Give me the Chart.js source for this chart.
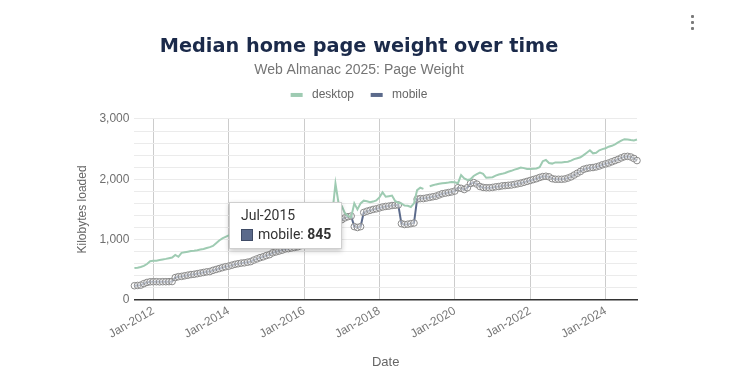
<!DOCTYPE html>
<html>
<head>
<meta charset="utf-8">
<script src="https://cdn.jsdelivr.net/npm/chart.js@4.4.1/dist/chart.umd.min.js"></script>
<style>
  html, body { margin: 0; padding: 0; background: #fff; }
  #wrap { position: relative; width: 734px; height: 382px; overflow: hidden; }
  #tip {
    position: absolute; display: none; background: #fff;
    border: 1px solid #cfcfcf; box-shadow: 0 2px 5px rgba(0,0,0,0.22);
    padding: 4px 10px 5px 11px; font-family: Roboto, 'Liberation Sans', sans-serif;
    color: #333; white-space: nowrap; pointer-events: none; box-sizing: border-box;
  }
  #tip .t { font-size: 14px; line-height: 17px; margin-bottom: 2px; }
  #tip .b { font-size: 14px; line-height: 17px; display: flex; align-items: center; }
  #tip .sw { display: inline-block; width: 12px; height: 12px; margin-right: 5px; box-sizing: border-box; border: 1px solid #3f4b66; }
  .dot { position: absolute; left: 691px; width: 3px; height: 3px; background: #7a7a7a; border-radius: 1px; }
</style>
</head>
<body>
<div id="wrap">
  <canvas id="c" width="734" height="382"></canvas>
  <div id="tip"></div>
  <div class="dot" style="top:15px"></div>
  <div class="dot" style="top:21px"></div>
  <div class="dot" style="top:27px"></div>
</div>
<script>
// ---------- data ----------
const MONTHS = ['Jan','Feb','Mar','Apr','May','Jun','Jul','Aug','Sep','Oct','Nov','Dec'];
const START_YEAR = 2011;
const START_MONTH = 6; // Jul

const desktopKB = [
  530, 535, 545, 565, 595, 640, 648, 650, 660, 670,
  680, 692, 703, 746, 715, 780, 790, 800, 810, 815,
  824, 835, 845, 860, 875, 895, 940, 985, 1020, 1045,
  1070, 1085, 1100, 1115, 1130, 1140, 1160, 1170, 1185, 1200,
  1210, 1225, 1240, 1255, 1265, 1280, 1290, 1300, 1310, 1320,
  1330, 1340, 1350, 1360, 1370, 1380, 1385, 1390, 1395, 1400,
  1405, 1410, 1420, 1430, 1930, 1600, 1560, 1440, 1390, 1370,
  1600, 1500, 1600, 1645, 1635, 1620, 1630, 1650, 1700, 1785,
  1710, 1720, 1730, 1640, 1610, 1600, 1565, 1560, 1540, 1600,
  1820, 1860, 1840, null, 1885, 1900, 1915, 1925, 1935, 1940,
  1945, 1955, 1950, 1935, 2070, 2015, 1990, 2000, 2055, 2085,
  2110, 2090, 2025, 2030, 2035, 2060, 2080, 2090, 2105, 2125,
  2140, 2160, 2175, 2195, 2185, 2170, 2170, 2175, 2180, 2200,
  2300, 2320, 2270, 2260, 2280, 2280, 2280, 2285, 2290, 2310,
  2335, 2350, 2365, 2400, 2440, 2480, 2430, 2440, 2480, 2500,
  2515, 2540, 2555, 2580, 2610, 2640, 2665, 2660, 2650, 2645,
  2660
];

const mobileKB = [
  235, 240, 245, 270, 290, 300, 302, 302, 300, 302,
  302, 303, 305, 370, 385, 390, 400, 410, 420, 425,
  435, 445, 455, 465, 470, 490, 505, 520, 535, 550,
  560, 575, 590, 600, 610, 615, 625, 635, 660, 680,
  700, 715, 735, 750, 780, 795, 810, 825, 845, 850,
  860, 870, 880, 900, 925, 950, 980, 1010, 1040, 1070,
  1100, 1140, 1180, 1220, 1260, 1300, 1330, 1360, 1380, 1390,
  1215, 1200, 1215, 1450, 1470, 1485, 1500, 1510, 1525, 1540,
  1550, 1555, 1565, 1570, 1575, 1265, 1250, 1255, 1265, 1275,
  1670, 1680, 1680, 1690, 1700, 1710, 1720, 1740, 1760, 1770,
  1780, 1790, 1805, 1860, 1850, 1830, 1860, 1930, 1945, 1920,
  1880, 1865, 1860, 1860, 1865, 1875, 1880, 1890, 1895, 1900,
  1905, 1915, 1925, 1935, 1950, 1965, 1980, 1995, 2010, 2030,
  2045, 2050, 2040, 2010, 2000, 2000, 2000, 2005, 2020, 2040,
  2070, 2100, 2130, 2165, 2180, 2190, 2195, 2205, 2220, 2240,
  2255, 2270, 2290, 2310, 2330, 2355, 2375, 2380, 2370, 2345,
  2310
];

const xTickLabels = ['Jan-2012','Jan-2014','Jan-2016','Jan-2018','Jan-2020','Jan-2022','Jan-2024'];
const yTickValues = [0, 1000, 2000, 3000];
const tooltipLabel = 'Jul-2015';

const categories = [];
for (let i = 0; i < mobileKB.length; i++) {
  const k = START_MONTH + i;
  categories.push(MONTHS[k % 12] + '-' + (START_YEAR + Math.floor(k / 12)));
}

// ---------- chart ----------
Chart.defaults.font.family = "'Liberation Sans', Arial, sans-serif";
Chart.defaults.color = '#6f6f6f';

const DESKTOP = '#9ecbb2';
const MOBILE = '#5b6a8b';

function externalTooltip(ctx) {
  const el = document.getElementById('tip');
  const t = ctx.tooltip;
  if (!t || t.opacity === 0 || !t.dataPoints || !t.dataPoints.length) { el.style.display = 'none'; return; }
  const dp = t.dataPoints[0];
  const val = dp.raw.toLocaleString('en-US');
  el.innerHTML = '<div class="t"></div><div class="b"><span class="sw"></span><span class="n"></span>&nbsp;<b></b></div>';
  el.querySelector('.t').textContent = dp.label;
  el.querySelector('.sw').style.background = MOBILE;
  el.querySelector('.n').textContent = dp.dataset.label + ':';
  el.querySelector('b').textContent = val;
  el.style.display = 'block';
  const w = el.offsetWidth, h = el.offsetHeight;
  el.style.left = Math.round(t.caretX - w / 2) + 'px';
  el.style.top = Math.round(t.caretY - h) + 'px';
}

// adds extra space below the legend
const legendGap = {
  id: 'legendGap',
  beforeLayout(chart) {
    const lg = chart.legend;
    if (lg && !lg._gapPatched) {
      const fit = lg.fit;
      lg.fit = function () { fit.call(this); this.height += 8; };
      lg._gapPatched = true;
    }
  }
};

const chart = new Chart(document.getElementById('c'), {
  type: 'line',
  data: {
    labels: categories,
    datasets: [
      {
        label: 'desktop', data: desktopKB,
        borderColor: DESKTOP, backgroundColor: DESKTOP, borderWidth: 2,
        pointRadius: 0, tension: 0, spanGaps: false
      },
      {
        label: 'mobile', data: mobileKB,
        borderColor: MOBILE, backgroundColor: MOBILE, borderWidth: 2,
        pointRadius: 3.3, pointBorderWidth: 1, pointBorderColor: '#8a8a8a',
        pointBackgroundColor: 'rgba(255,255,255,0.35)', tension: 0
      }
    ]
  },
  plugins: [legendGap],
  options: {
    responsive: false,
    animation: false,
    layout: { padding: { top: 35, left: 71, right: 87, bottom: 10 } },
    plugins: {
      title: {
        display: true, text: 'Median home page weight over time',
        color: '#1b2a4a', font: { family: "'DejaVu Sans', sans-serif", size: 19.3, weight: 'bold', lineHeight: 1.2 },
        padding: { top: 0, bottom: 4 }
      },
      subtitle: {
        display: true, text: 'Web Almanac 2025: Page Weight',
        color: '#757575', font: { size: 14, lineHeight: 1.2 },
        padding: { top: 0, bottom: 0 }
      },
      legend: {
        display: true,
        labels: {
          boxWidth: 12, boxHeight: 4, padding: 10, color: '#666', font: { size: 12 },
          generateLabels(ch) {
            const n = ch.data.datasets.length;
            return ch.data.datasets.map((d, i) => ({
              text: ' ' + d.label + (i < n - 1 ? '  ' : ''),
              fillStyle: d.borderColor, strokeStyle: d.borderColor,
              lineWidth: 0, hidden: false, datasetIndex: i, fontColor: '#666'
            }));
          }
        }
      },
      tooltip: { enabled: false, external: externalTooltip, mode: 'nearest', intersect: false }
    },
    scales: {
      x: {
        type: 'category',
        offset: false,
        grid: { display: true, color: '#cccccc', drawTicks: false },
        border: { display: true, color: '#333333', width: 1.5 },
        ticks: {
          autoSkip: false, minRotation: 30, maxRotation: 30, padding: 4,
          color: '#777', font: { size: 12 },
          callback(value) {
            const l = this.getLabelForValue(value);
            return xTickLabels.includes(l) ? l : null;
          }
        },
        title: { display: true, text: 'Date', color: '#666', font: { size: 13 }, padding: { top: 9, bottom: 2 } }
      },
      y: {
        min: 0, max: 3000,
        grid: { color: '#ebebeb', drawTicks: false },
        border: { display: false },
        ticks: {
          autoSkip: false, stepSize: 200, padding: 5, color: '#6f6f6f', font: { size: 12 },
          callback(v) { return yTickValues.includes(v) ? v.toLocaleString('en-US') : ''; }
        },
        title: { display: true, text: 'Kilobytes loaded', color: '#666', font: { size: 12 }, padding: { top: 4, bottom: 5 } }
      },
      yR: {
        position: 'right', display: true,
        grid: { display: false }, border: { display: false }, ticks: { display: false },
        afterFit(s) { s.width = 10; }
      }
    }
  }
});

chart.tooltip.setActiveElements([{ datasetIndex: 1, index: categories.indexOf(tooltipLabel) }], { x: 0, y: 0 });
</script>
</body>
</html>
